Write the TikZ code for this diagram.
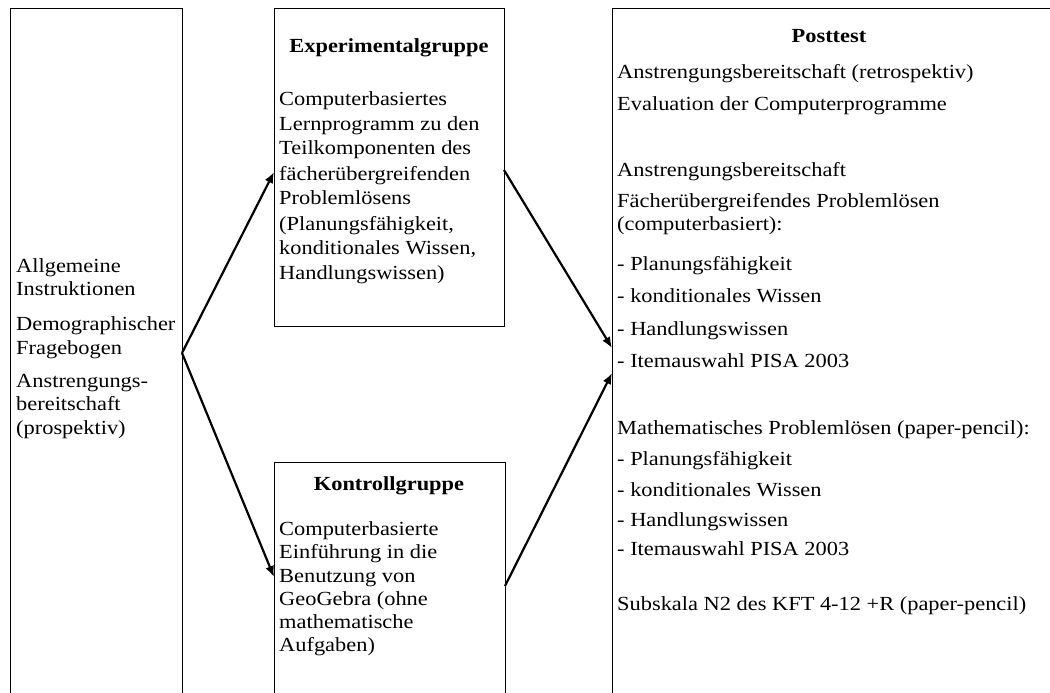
\documentclass[tikz,border=0pt]{standalone}
\usepackage{fontspec}
\setmainfont{Liberation Serif}[FakeStretch=1.12]
\usetikzlibrary{arrows.meta}
\tikzset{
  box/.style={draw, line width=1.3pt, rectangle, inner sep=0pt, anchor=north west},
  txt/.style={anchor=mid west, inner sep=0pt, font=\fontsize{20}{23}\selectfont},
  ttl/.style={anchor=mid, inner sep=0pt, font=\fontsize{20}{23}\selectfont\bfseries},
  arr/.style={line width=2.2pt, -{Latex[length=11pt,width=9pt]}}
}
\begin{document}
\begin{tikzpicture}[x=1pt,y=1pt]
\useasboundingbox (0,0) rectangle (1050,-693);
\clip (0,0) rectangle (1050,-693);
\fill[white] (0,0) rectangle (1050,-693);
% boxes
\node[box, minimum width=172pt, minimum height=720pt] (left) at (10,-8) {};
\node[box, minimum width=230pt, minimum height=318pt] (exp) at (274,-8) {};
\node[box, minimum width=231pt, minimum height=260pt] (kon) at (274,-462) {};
\node[box, minimum width=470pt, minimum height=720pt] (post) at (612,-8) {};
% left text
\node[txt] (l1) at (16,-270) {Allgemeine};
\node[txt] (l2) at (16,-293) {Instruktionen};
\node[txt] (l3) at (16,-328) {Demographischer};
\node[txt] (l4) at (16,-352) {Fragebogen};
\node[txt] (l5) at (16,-385) {Anstrengungs-};
\node[txt] (l6) at (16,-408) {bereitschaft};
\node[txt] (l7) at (16,-432) {(prospektiv)};
% experimental group
\node[ttl] (et) at (389,-50) {Experimentalgruppe};
\node[txt] (e1) at (279,-103) {Computerbasiertes};
\node[txt] (e2) at (279,-128) {Lernprogramm zu den};
\node[txt] (e3) at (279,-152) {Teilkomponenten des};
\node[txt] (e4) at (279,-178) {fächerübergreifenden};
\node[txt] (e5) at (279,-202) {Problemlösens};
\node[txt] (e6) at (279,-228) {(Planungsfähigkeit,};
\node[txt] (e7) at (279,-252) {konditionales Wissen,};
\node[txt] (e8) at (279,-277) {Handlungswissen)};
% control group
\node[ttl] (kt) at (389,-488) {Kontrollgruppe};
\node[txt] (k1) at (279,-533) {Computerbasierte};
\node[txt] (k2) at (279,-556) {Einführung in die};
\node[txt] (k3) at (279,-580) {Benutzung von};
\node[txt] (k4) at (279,-603) {GeoGebra (ohne};
\node[txt] (k5) at (279,-626) {mathematische};
\node[txt] (k6) at (279,-649) {Aufgaben)};
% posttest
\node[ttl] (pt) at (829,-40) {Posttest};
\node[txt] (p1) at (617,-76) {Anstrengungsbereitschaft (retrospektiv)};
\node[txt] (p2) at (617,-108) {Evaluation der Computerprogramme};
\node[txt] (p3) at (617,-174) {Anstrengungsbereitschaft};
\node[txt] (p4) at (617,-205) {Fächerübergreifendes Problemlösen};
\node[txt] (p5) at (617,-228) {(computerbasiert):};
\node[txt] (p6) at (617,-268) {- Planungsfähigkeit};
\node[txt] (p7) at (617,-300) {- konditionales Wissen};
\node[txt] (p8) at (617,-333) {- Handlungswissen};
\node[txt] (p9) at (617,-365) {- Itemauswahl PISA 2003};
\node[txt] (p10) at (617,-432) {Mathematisches Problemlösen (paper-pencil):};
\node[txt] (p11) at (617,-463) {- Planungsfähigkeit};
\node[txt] (p12) at (617,-494) {- konditionales Wissen};
\node[txt] (p13) at (617,-524) {- Handlungswissen};
\node[txt] (p14) at (617,-553) {- Itemauswahl PISA 2003};
\node[txt] (p15) at (617,-608) {Subskala N2 des KFT 4-12 +R (paper-pencil)};
% connector points
\coordinate (j) at (182,-353);
\coordinate (ein) at (274,-172);
\coordinate (kin) at (274,-577);
\coordinate (eout) at (504,-170);
\coordinate (kout) at (505,-586);
\coordinate (pin1) at (612,-348);
\coordinate (pin2) at (612,-373);
\draw[arr] (j) -- (ein);
\draw[arr] (j) -- (kin);
\draw[arr] (eout) -- (pin1);
\draw[arr] (kout) -- (pin2);
\end{tikzpicture}
\end{document}
